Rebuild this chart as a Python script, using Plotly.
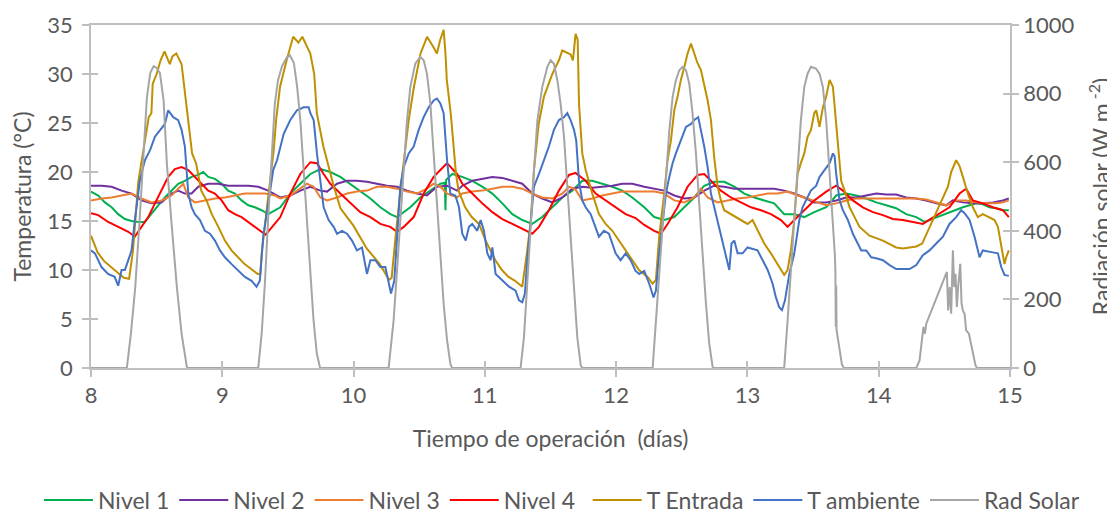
import plotly.graph_objects as go

# ---------------- data ----------------
t_nivel1 = [8.0, 8.055, 8.106, 8.157, 8.207, 8.258, 8.309, 8.36, 8.41, 8.461, 8.512, 8.563, 8.614, 8.664, 8.715,
            8.766, 8.817, 8.855, 8.893, 8.944, 8.995, 9.045, 9.096, 9.147, 9.198, 9.248, 9.299, 9.35, 9.442, 9.518,
            9.594, 9.671, 9.747, 9.823, 9.899, 9.975, 10.051, 10.128, 10.204, 10.28, 10.331, 10.382, 10.432, 10.508,
            10.585, 10.661, 10.695, 10.700, 10.705, 10.752, 10.828, 10.904, 10.98, 11.057, 11.133, 11.209, 11.285,
            11.361, 11.437, 11.514, 11.59, 11.666, 11.742, 11.818, 11.894, 11.971, 12.047, 12.123, 12.214, 12.29,
            12.366, 12.443, 12.519, 12.595, 12.671, 12.747, 12.823, 12.9, 12.976, 13.052, 13.128, 13.204, 13.28,
            13.357, 13.433, 13.509, 13.6, 13.676, 13.752, 13.829, 13.905, 13.981, 14.057, 14.133, 14.209, 14.286,
            14.349, 14.539, 14.59, 14.641, 14.692, 14.743, 14.793, 14.844, 14.895, 14.946, 14.991]
nivel1 = [18.0, 17.6, 16.9, 16.4, 15.7, 15.2, 15.0, 14.9, 14.9, 15.8, 16.6, 17.4, 18.1, 18.8, 19.1,
          19.5, 19.7, 20.0, 19.5, 19.3, 18.8, 18.1, 17.8, 17.1, 16.6, 16.4, 16.1, 15.7, 16.4, 17.8,
          18.8, 19.8, 20.3, 20.0, 19.5, 18.8, 18.1, 17.3, 16.4, 15.7, 15.4, 15.9, 16.4, 17.4,
          18.1, 18.8, 18.9, 16.1, 19.2, 19.8, 19.5, 19.1, 18.5, 17.8, 16.8, 15.7, 15.1,
          14.7, 15.4, 16.4, 17.4, 18.1, 19.1, 19.1, 18.8, 18.5, 18.1, 17.4, 16.4, 15.4,
          15.1, 15.4, 16.4, 17.4, 18.6, 19.0, 19.0, 18.5, 17.8, 17.4, 17.1, 16.8, 15.7,
          15.7, 15.4, 15.9, 16.4, 17.6, 17.8, 17.6, 17.3, 16.9, 16.6, 16.3, 15.7, 15.4,
          14.9, 15.9, 16.1, 16.4, 16.6, 16.8, 16.7, 16.4, 16.3, 16.1, 16.1]

t_nivel2 = [8.0, 8.081, 8.157, 8.233, 8.309, 8.385, 8.461, 8.538, 8.614, 8.664, 8.715, 8.766, 8.817, 8.893, 8.969,
            9.045, 9.121, 9.198, 9.274, 9.35, 9.442, 9.518, 9.594, 9.671, 9.747, 9.798, 9.874, 9.95, 10.026, 10.102,
            10.178, 10.255, 10.331, 10.407, 10.483, 10.559, 10.635, 10.712, 10.788, 10.828, 10.904, 10.98, 11.057,
            11.133, 11.209, 11.285, 11.361, 11.437, 11.514, 11.59, 11.666, 11.742, 11.818, 11.894, 11.971, 12.047,
            12.123, 12.214, 12.29, 12.366, 12.443, 12.519, 12.595, 12.671, 12.747, 12.823, 12.9, 12.976, 13.052,
            13.128, 13.204, 13.28, 13.357, 13.433, 13.509, 13.6, 13.676, 13.752, 13.829, 13.905, 13.981, 14.057,
            14.133, 14.209, 14.286, 14.362, 14.438, 14.514, 14.565, 14.641, 14.717, 14.793, 14.869, 14.946, 14.991]
nivel2 = [18.6, 18.6, 18.5, 18.1, 17.8, 17.1, 16.8, 16.9, 17.8, 18.1, 17.8, 17.8, 18.5, 18.8, 18.8,
          18.6, 18.6, 18.6, 18.5, 18.1, 17.4, 17.6, 18.1, 18.5, 18.1, 18.0, 18.8, 19.1, 19.1, 19.0,
          18.8, 18.6, 18.5, 18.1, 17.8, 17.6, 18.5, 18.6, 18.1, 18.6, 19.1, 19.3, 19.5,
          19.4, 19.1, 18.8, 17.8, 17.3, 16.9, 17.4, 18.3, 18.5, 18.4, 18.5, 18.6, 18.8,
          18.8, 18.5, 18.3, 18.1, 17.6, 17.3, 17.4, 18.1, 18.6, 18.5, 18.3, 18.3, 18.3,
          18.3, 18.3, 18.1, 17.8, 17.4, 16.9, 16.9, 17.1, 17.4, 17.4, 17.6, 17.8, 17.7,
          17.7, 17.4, 17.3, 17.1, 16.8, 16.6, 17.1, 16.9, 16.8, 16.8, 16.9, 17.1, 17.3]

t_nivel3 = [8.0, 8.081, 8.157, 8.233, 8.309, 8.385, 8.461, 8.538, 8.614, 8.664, 8.703, 8.741, 8.791, 8.868, 8.944,
            9.02, 9.096, 9.172, 9.248, 9.325, 9.401, 9.442, 9.518, 9.594, 9.645, 9.696, 9.747, 9.798, 9.874, 9.95,
            10.026, 10.102, 10.178, 10.255, 10.331, 10.407, 10.483, 10.559, 10.61, 10.661, 10.712, 10.788, 10.828,
            10.904, 10.98, 11.057, 11.133, 11.209, 11.285, 11.361, 11.437, 11.514, 11.59, 11.641, 11.691, 11.742,
            11.818, 11.894, 11.971, 12.047, 12.123, 12.199, 12.29, 12.366, 12.443, 12.519, 12.595, 12.646, 12.697,
            12.773, 12.849, 12.925, 13.001, 13.077, 13.154, 13.23, 13.306, 13.382, 13.458, 13.534, 13.6, 13.676,
            13.752, 13.829, 13.905, 13.981, 14.057, 14.133, 14.209, 14.286, 14.362, 14.438, 14.514, 14.59, 14.666,
            14.743, 14.819, 14.895, 14.946, 14.991]
nivel3 = [17.1, 17.3, 17.4, 17.6, 17.8, 17.3, 16.9, 17.1, 17.6, 18.3, 18.8, 17.4, 16.9, 17.1, 17.3,
          17.4, 17.6, 17.8, 17.8, 17.8, 17.6, 17.3, 17.6, 18.3, 18.8, 18.5, 17.4, 17.1, 17.4, 17.8,
          18.0, 18.1, 18.5, 18.5, 18.3, 18.0, 17.8, 18.3, 18.8, 18.5, 17.8, 17.4, 17.8,
          18.0, 18.1, 18.3, 18.5, 18.5, 18.3, 17.8, 17.4, 17.3, 17.8, 18.5, 18.2, 17.1,
          17.3, 17.6, 17.8, 18.0, 18.0, 18.0, 18.0, 17.8, 17.1, 16.9, 17.4, 18.3, 17.4,
          16.9, 17.1, 17.3, 17.4, 17.6, 17.8, 17.8, 18.0, 17.6, 17.3, 16.9, 16.6, 16.8,
          17.1, 17.3, 17.3, 17.3, 17.3, 17.3, 17.3, 17.3, 17.2, 16.9, 16.6, 17.1, 17.1,
          16.9, 16.8, 16.8, 16.9, 17.1]

t_nivel4 = [8.0, 8.055, 8.131, 8.207, 8.284, 8.334, 8.385, 8.436, 8.487, 8.538, 8.588, 8.639, 8.69, 8.741, 8.791,
            8.842, 8.893, 8.944, 8.995, 9.045, 9.096, 9.147, 9.198, 9.248, 9.299, 9.33, 9.38, 9.442, 9.518, 9.594,
            9.671, 9.721, 9.772, 9.823, 9.899, 9.975, 10.051, 10.128, 10.204, 10.28, 10.331, 10.382, 10.458, 10.534,
            10.61, 10.661, 10.712, 10.788, 10.828, 10.904, 10.98, 11.057, 11.133, 11.209, 11.285, 11.361, 11.412,
            11.488, 11.564, 11.641, 11.691, 11.768, 11.844, 11.92, 11.996, 12.072, 12.148, 12.214, 12.29, 12.341,
            12.392, 12.468, 12.544, 12.62, 12.671, 12.722, 12.798, 12.874, 12.95, 13.027, 13.103, 13.179, 13.255,
            13.306, 13.357, 13.433, 13.509, 13.6, 13.676, 13.727, 13.803, 13.879, 13.956, 14.032, 14.108, 14.184,
            14.26, 14.336, 14.539, 14.616, 14.666, 14.717, 14.793, 14.869, 14.946, 14.991]
nivel4 = [15.8, 15.6, 14.9, 14.4, 13.9, 13.4, 14.4, 15.4, 16.8, 18.1, 19.5, 20.3, 20.5, 20.2, 19.5,
          18.8, 18.1, 17.8, 17.1, 16.1, 15.7, 15.4, 14.9, 14.4, 13.9, 13.6, 14.4, 15.4, 17.8, 19.8,
          21.0, 20.9, 19.8, 18.8, 17.8, 16.8, 15.9, 15.4, 14.7, 14.4, 13.9, 14.4, 15.4, 17.8,
          19.5, 20.2, 20.9, 19.8, 18.8, 17.8, 16.8, 15.9, 15.2, 14.7, 14.2, 13.7, 14.4,
          16.1, 18.1, 19.7, 19.9, 19.1, 17.8, 17.1, 16.4, 15.7, 15.3, 14.6, 14.0, 13.7,
          14.7, 16.4, 18.5, 19.7, 19.8, 19.1, 18.1, 17.4, 16.9, 16.4, 16.1, 15.7, 15.1,
          14.4, 15.1, 16.1, 17.1, 18.0, 18.6, 18.1, 17.1, 16.4, 15.9, 15.6, 15.2, 15.1,
          14.9, 14.7, 16.4, 17.8, 18.3, 17.1, 16.8, 16.4, 16.1, 15.4]

t_entrada_t = [8.0, 8.05, 8.1, 8.15, 8.2, 8.25, 8.29, 8.32, 8.36, 8.4, 8.44, 8.46, 8.47, 8.5, 8.53, 8.56, 8.6,
               8.62, 8.65, 8.69, 8.71, 8.74, 8.77, 8.8, 8.84, 8.88, 8.92, 8.97, 9.02, 9.07, 9.12, 9.17, 9.22,
               9.27, 9.29, 9.3, 9.35, 9.39, 9.41, 9.44, 9.49, 9.54, 9.58, 9.61, 9.645, 9.67, 9.7, 9.72, 9.77,
               9.85, 9.9, 10.0, 10.1, 10.2, 10.27, 10.29, 10.32, 10.36, 10.42, 10.46, 10.51, 10.56, 10.61,
               10.635, 10.66, 10.686, 10.7, 10.71, 10.74, 10.76, 10.78, 10.8, 10.85, 10.9, 10.955, 11.006,
               11.08, 11.13, 11.18, 11.23, 11.285, 11.32, 11.35, 11.374, 11.41, 11.45, 11.476, 11.514, 11.564,
               11.59, 11.653, 11.671, 11.691, 11.707, 11.717, 11.742, 11.768, 11.818, 11.869, 11.92, 11.971,
               12.021, 12.072, 12.123, 12.174, 12.24, 12.278, 12.303, 12.328, 12.366, 12.392, 12.417, 12.443,
               12.468, 12.493, 12.519, 12.544, 12.57, 12.595, 12.62, 12.646, 12.671, 12.697, 12.722, 12.747,
               12.773, 12.798, 12.823, 12.874, 12.95, 13.001, 13.039, 13.077, 13.128, 13.179, 13.23, 13.28,
               13.306, 13.331, 13.357, 13.382, 13.407, 13.433, 13.458, 13.484, 13.509, 13.524, 13.549, 13.575,
               13.6, 13.626, 13.651, 13.676, 13.714, 13.74, 13.778, 13.816, 13.854, 13.93, 14.032, 14.133,
               14.184, 14.286, 14.331, 14.527, 14.552, 14.59, 14.616, 14.641, 14.679, 14.717, 14.755, 14.793,
               14.844, 14.882, 14.908, 14.933, 14.958, 14.971, 14.991]
t_entrada = [13.5, 11.8, 10.9, 10.3, 9.8, 9.2, 9.1, 12.0, 19.0, 22.5, 25.6, 26.0, 29.0, 30.0, 31.4, 32.3, 31.0,
             31.8, 32.1, 31.0, 28.7, 25.3, 21.9, 20.9, 18.1, 17.1, 15.7, 14.4, 13.0, 12.0, 11.3, 10.6, 10.1,
             9.6, 9.6, 11.7, 17.5, 22.0, 25.3, 28.7, 31.4, 33.8, 33.2, 33.8, 32.8, 32.1, 30.0, 26.0, 22.6,
             18.5, 16.3, 14.5, 12.2, 10.6, 9.0, 9.2, 13.4, 18.5, 25.3, 28.7, 32.1, 33.8, 32.7,
             32.1, 33.5, 34.5, 32.1, 29.4, 26.0, 22.9, 19.8, 18.1, 16.4, 15.4, 14.7, 13.0,
             11.0, 10.0, 9.3, 8.9, 8.3, 11.7, 15.1, 20.2, 24.9, 27.7, 28.7, 30.0, 31.4,
             32.4, 32.0, 31.4, 34.1, 33.5, 27.0, 21.9, 20.2, 17.8, 15.7, 14.7, 14.0,
             13.0, 12.0, 11.0, 10.0, 9.3, 8.6, 9.0, 13.4, 17.8, 21.2, 23.2, 26.3,
             27.7, 29.4, 30.7, 32.1, 33.1, 32.1, 31.1, 30.4, 29.0, 27.3, 25.3, 21.5,
             18.5, 17.1, 16.1, 15.7, 15.1, 14.7, 15.1, 14.0, 12.7, 11.7, 10.6, 9.5,
             10.0, 12.0, 15.1, 19.8, 20.9, 21.9, 23.6, 24.3, 26.0, 26.3, 24.6, 26.6,
             27.7, 29.4, 28.7, 24.6, 19.1, 18.1, 16.4, 15.4, 14.4, 13.5, 13.0, 12.3,
             12.2, 12.4, 12.7, 18.5, 20.0, 21.2, 20.6, 19.5, 17.8, 16.4, 15.4, 15.7,
             15.4, 15.1, 14.4, 12.3, 10.6, 11.3, 12.0]

t_amb_t = [8.0, 8.03, 8.08, 8.13, 8.18, 8.207, 8.233, 8.258, 8.284, 8.309, 8.334, 8.372, 8.41, 8.449, 8.487,
           8.525, 8.563, 8.588, 8.626, 8.664, 8.69, 8.715, 8.741, 8.766, 8.791, 8.83, 8.868, 8.906, 8.944, 8.982,
           9.02, 9.071, 9.121, 9.172, 9.223, 9.261, 9.286, 9.312, 9.35, 9.388, 9.417, 9.468, 9.518, 9.569, 9.62,
           9.658, 9.671, 9.696, 9.721, 9.747, 9.772, 9.81, 9.848, 9.874, 9.912, 9.95, 9.988, 10.026, 10.064,
           10.102, 10.128, 10.166, 10.204, 10.242, 10.267, 10.285, 10.31, 10.331, 10.356, 10.382, 10.42, 10.458,
           10.496, 10.534, 10.572, 10.61, 10.635, 10.661, 10.686, 10.712, 10.737, 10.775, 10.803, 10.828, 10.854,
           10.879, 10.904, 10.942, 10.968, 10.993, 11.019, 11.044, 11.057, 11.082, 11.133, 11.184, 11.234, 11.26,
           11.285, 11.305, 11.323, 11.349, 11.374, 11.412, 11.45, 11.488, 11.526, 11.564, 11.603, 11.628, 11.653,
           11.679, 11.696, 11.717, 11.742, 11.768, 11.806, 11.844, 11.869, 11.907, 11.945, 11.996, 12.034, 12.072,
           12.11, 12.148, 12.176, 12.214, 12.252, 12.285, 12.303, 12.328, 12.354, 12.379, 12.405, 12.43, 12.455,
           12.493, 12.532, 12.57, 12.595, 12.625, 12.646, 12.671, 12.697, 12.722, 12.76, 12.798, 12.823, 12.844,
           12.862, 12.879, 12.9, 12.925, 12.963, 13.001, 13.077, 13.115, 13.154, 13.192, 13.217, 13.242, 13.263,
           13.286, 13.319, 13.357, 13.395, 13.42, 13.445, 13.483, 13.524, 13.549, 13.587, 13.626, 13.651, 13.664,
           13.676, 13.702, 13.727, 13.765, 13.803, 13.841, 13.867, 13.905, 13.943, 13.981, 14.032, 14.083, 14.133,
           14.235, 14.286, 14.336, 14.387, 14.438, 14.489, 14.539, 14.59, 14.628, 14.654, 14.692, 14.73, 14.768,
           14.793, 14.869, 14.908, 14.933, 14.958, 14.991]
t_amb = [12.0, 11.7, 10.3, 9.6, 9.3, 8.4, 10.0, 10.0, 11.0, 12.0, 15.1, 19.1, 21.2, 22.2, 23.6,
         24.3, 24.9, 26.3, 25.6, 25.3, 24.3, 22.6, 17.8, 16.4, 15.7, 15.1, 14.0, 13.7, 13.0, 12.0,
         11.3, 10.6, 10.0, 9.3, 8.9, 8.3, 8.9, 13.4, 16.8, 20.2, 21.2, 23.9, 25.3, 26.3, 26.6,
         26.6, 26.0, 25.3, 21.9, 19.1, 16.4, 15.1, 14.4, 13.7, 14.0, 13.7, 13.0, 12.0, 12.3,
         9.6, 11.0, 11.0, 10.3, 10.3, 8.6, 7.6, 8.9, 13.7, 18.5, 20.5, 21.9, 22.6,
         24.3, 25.6, 26.6, 27.3, 27.5, 27.0, 26.0, 21.2, 17.8, 17.6, 16.4, 13.7, 13.0,
         14.4, 14.7, 14.0, 15.1, 14.0, 11.7, 11.0, 12.3, 9.6, 8.9, 8.3, 7.9, 6.9,
         6.7, 7.6, 11.0, 15.1, 18.5, 19.8, 21.2, 22.6, 24.3, 25.3, 25.6, 26.0, 25.3,
         24.3, 23.2, 19.1, 17.1, 16.4, 15.7, 14.4, 13.4, 14.0, 13.7, 11.7, 11.0, 11.7,
         11.0, 9.9, 9.6, 9.9, 8.6, 7.2, 7.9, 11.7, 15.1, 17.8, 19.5, 20.9, 21.9,
         23.2, 24.6, 24.9, 25.3, 25.6, 24.3, 22.6, 20.5, 17.8, 15.7, 13.7, 12.3, 11.0,
         10.0, 12.7, 13.0, 11.7, 11.7, 12.3, 12.0, 11.0, 10.0, 8.6, 7.2, 6.2, 5.9,
         6.9, 9.6, 11.7, 15.1, 16.4, 17.1, 18.1, 18.6, 19.5, 20.2, 20.9, 21.9, 21.6,
         19.8, 17.1, 16.1, 15.1, 13.7, 12.7, 12.0, 12.0, 11.3, 11.2, 11.0, 10.5, 10.1,
         10.1, 10.5, 11.5, 12.0, 12.7, 13.4, 14.7, 15.4, 16.1, 15.8, 15.1, 13.4, 11.3,
         12.0, 11.8, 11.7, 10.3, 9.5, 9.4]

t_rad = [8.0, 8.273, 8.304, 8.337, 8.37, 8.4, 8.426, 8.451, 8.477, 8.5, 8.525, 8.553, 8.578, 8.614, 8.654, 8.69,
         8.73, 8.74,
         9.274, 9.3, 9.325, 9.35, 9.375, 9.4, 9.425, 9.455, 9.49, 9.515, 9.545, 9.57, 9.595, 9.62, 9.645, 9.67,
         9.695, 9.72, 9.745,
         10.267, 10.305, 10.331, 10.356, 10.382, 10.407, 10.432, 10.47, 10.508, 10.534, 10.559, 10.585, 10.61,
         10.635, 10.661, 10.686, 10.712, 10.737, 10.75,
         11.272, 11.298, 11.323, 11.349, 11.374, 11.4, 11.437, 11.476, 11.501, 11.526, 11.552, 11.577, 11.603,
         11.628, 11.653, 11.679, 11.704, 11.73, 11.742,
         12.278, 12.303, 12.328, 12.354, 12.379, 12.405, 12.43, 12.455, 12.481, 12.506, 12.532, 12.557, 12.582,
         12.608, 12.633, 12.658, 12.684, 12.709, 12.735, 12.747,
         13.28, 13.306, 13.331, 13.357, 13.382, 13.407, 13.433, 13.458, 13.484, 13.522, 13.549, 13.575, 13.6,
         13.626, 13.651, 13.666, 13.67, 13.673, 13.676, 13.679, 13.69, 13.705, 13.72, 13.735,
         14.286, 14.311, 14.331, 14.341, 14.352, 14.362, 14.519, 14.529, 14.54, 14.552, 14.565, 14.575, 14.585,
         14.595, 14.605, 14.621, 14.631, 14.641, 14.654, 14.666, 14.687, 14.712, 14.737, 14.748, 15.0]
rad_solar = [0, 0, 100, 235, 430, 626, 790, 860, 880, 875, 860, 780, 595, 420, 236, 100,
             3, 0,
             0, 100, 250, 440, 620, 770, 840, 880, 905, 912, 890, 820, 720, 576, 431, 285,
             140, 42, 0,
             0, 139, 285, 431, 606, 722, 819, 887, 907, 897, 858, 771, 625,
             479, 333, 188, 81, 13, 0,
             0, 90, 236, 411, 576, 722, 819, 878, 897, 887, 839, 771, 674,
             528, 382, 236, 90, 8, 0,
             0, 139, 285, 431, 576, 693, 790, 839, 868, 878, 868, 829, 742,
             625, 479, 333, 188, 71, 3, 0,
             0, 139, 285, 431, 576, 722, 819, 858, 878, 873, 858, 819, 722,
             576, 431, 330, 285, 120, 240, 110, 80, 40, 10, 0,
             0, 22, 100, 120, 100, 129, 280, 168, 236, 158, 343, 236, 275,
             178, 236, 304, 188, 168, 158, 110, 100, 52, 8, 0, 0]

x_ticks = [8, 9, 10, 11, 12, 13, 14, 15]
y_ticks = [0, 5, 10, 15, 20, 25, 30, 35]
y2_ticks = [0, 200, 400, 600, 800, 1000]

# ---------------- figure ----------------
# the page body has an 8 px margin, so the figure is drawn 8 px smaller than the window
W, H = 1107, 506
FONT = "Lato, 'Open Sans', sans-serif"
TXT = "#595959"
AX = "#BFBFBF"

fig = go.Figure()
series = [
    ("Nivel 1", t_nivel1, nivel1, "#00B050", "legend"),
    ("Nivel 2", t_nivel2, nivel2, "#7030A0", "legend"),
    ("Nivel 3", t_nivel3, nivel3, "#ED7D31", "legend"),
    ("Nivel 4", t_nivel4, nivel4, "#FF0000", "legend"),
    ("T Entrada", t_entrada_t, t_entrada, "#BF9000", "legend2"),
    ("T ambiente", t_amb_t, t_amb, "#4472C4", "legend2"),
]
for name, xs, ys, col, lg in series:
    fig.add_trace(go.Scatter(x=xs, y=ys, name=name, mode="lines", legend=lg,
                             line=dict(color=col, width=2)))
fig.add_trace(go.Scatter(x=t_rad, y=rad_solar, name="Rad Solar", mode="lines", legend="legend2",
                         line=dict(color="#A5A5A5", width=2), yaxis="y2"))

# empty helper traces so the overlay axes (inner half of the "cross" ticks) get drawn
for xa, ya in (("x2", "y"), ("x", "y3"), ("x", "y4")):
    fig.add_trace(go.Scatter(x=[None], y=[None], xaxis=xa, yaxis=ya, showlegend=False,
                             hoverinfo="skip", mode="lines"))

common = dict(showgrid=False, zeroline=False, tickcolor=AX, ticklen=7, tickwidth=1.5)
LEG_Y = -0.385
leg_common = dict(orientation="h", xanchor="left", y=LEG_Y, yanchor="middle", itemwidth=49,
                  font=dict(size=23, color=TXT), bgcolor="rgba(0,0,0,0)")

fig.update_layout(
    width=W, height=H,
    margin=dict(l=83, r=105, t=17, b=146, autoexpand=False),
    paper_bgcolor="white", plot_bgcolor="white",
    font=dict(family=FONT, color=TXT, size=22),
    showlegend=True,
    legend=dict(x=-0.0566, **leg_common),
    legend2=dict(x=0.5405, **leg_common),
    xaxis=dict(range=[8, 15], tickvals=x_ticks, ticks="outside",
               showline=True, linecolor=AX, linewidth=1.5, mirror=True,
               tickfont=dict(size=22, color=TXT),
               title=dict(text="Tiempo de operación&nbsp; (días)", font=dict(size=23, color=TXT), standoff=24),
               **common),
    xaxis2=dict(range=[8, 15], tickvals=x_ticks, ticks="inside", overlaying="x", anchor="y",
                showticklabels=False, showline=False, **common),
    yaxis=dict(range=[0, 35], tickvals=y_ticks, ticks="outside", ticklabelstandoff=5,
               showline=True, linecolor=AX, linewidth=1.5,
               tickfont=dict(size=22, color=TXT),
               title=dict(text="Temperatura (°C)", font=dict(size=23, color=TXT), standoff=12),
               **common),
    yaxis2=dict(range=[0, 1000], tickvals=y2_ticks, overlaying="y", side="right", ticks="outside",
                showline=True, linecolor=AX, linewidth=1.5,
                tickfont=dict(size=22, color=TXT),
                title=dict(text="Radiación solar (W m<sup> -2</sup>)", font=dict(size=23, color=TXT), standoff=24),
                **common),
    yaxis3=dict(range=[0, 35], tickvals=y_ticks, ticks="inside", overlaying="y", side="left", anchor="x",
                showticklabels=False, showline=False, **common),
    yaxis4=dict(range=[0, 1000], tickvals=y2_ticks, ticks="inside", overlaying="y", side="right", anchor="x",
                showticklabels=False, showline=False, **common),
)

fig.write_html("out.html")
